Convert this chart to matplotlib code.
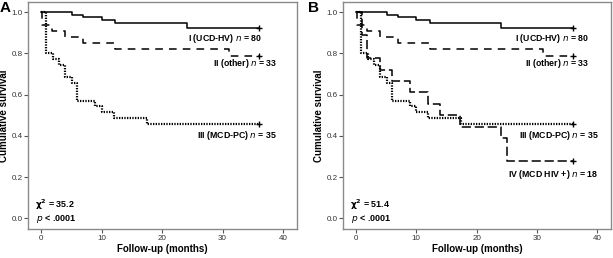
import matplotlib
matplotlib.use("Agg")
import matplotlib.pyplot as plt

plt.rcParams['font.family'] = ['Liberation Sans', 'DejaVu Sans']

# survival step data (months, cumulative survival)
t_I = [0, 5.1, 7.0, 10.0, 12.2, 24.1, 36]
s_I = [1.0, 0.9875, 0.975, 0.9625, 0.95, 0.925, 0.925]

t_II = [0, 0.2, 1.8, 4.0, 7.0, 12.2, 31.0, 36]
s_II = [1.0, 0.94, 0.91, 0.88, 0.85, 0.82, 0.79, 0.79]

t_III = [0, 0.9, 2.0, 3.0, 4.0, 5.1, 6.0, 9.0, 10.0, 12.0, 17.5, 36]
s_III = [1.0, 0.80, 0.771, 0.743, 0.686, 0.657, 0.571, 0.543, 0.514, 0.486, 0.457, 0.457]

t_IV = [0, 1.0, 1.8, 4.0, 5.9, 8.9, 12.0, 14.0, 17.2, 24.1, 25.0, 36]
s_IV = [1.0, 0.889, 0.778, 0.722, 0.667, 0.611, 0.556, 0.5, 0.444, 0.389, 0.278, 0.278]

chi_A = "35.2"
chi_B = "51.4"
x_ticks = [0, 10, 20, 30, 40]
y_ticks = [0.0, 0.2, 0.4, 0.6, 0.8, 1.0]

W, H = 613, 258
fig = plt.figure(figsize=(W / 100, H / 100), dpi=100)


def style_axes(ax):
    ax.set_xlim(-2.15, 42.3)
    ax.set_ylim(-0.052, 1.05)
    ax.set_xticks(x_ticks)
    ax.set_yticks(y_ticks)
    ax.set_yticklabels([f"{v:.1f}" for v in y_ticks])
    for sp in ax.spines.values():
        sp.set_color("#8a8a8a")
        sp.set_linewidth(1.0)
    ax.tick_params(length=3, width=0.8, color="#555555", labelsize=5.8,
                   labelcolor="#333333", pad=1)
    ax.set_xlabel("Follow-up (months)", fontsize=7, fontweight="bold", labelpad=2)
    ax.set_ylabel("Cumulative survival", fontsize=7, fontweight="bold", labelpad=2)


def km(ax, t, s, **kw):
    ax.plot(t, s, drawstyle="steps-post", color="black", **kw)
    ax.plot(t[-1], s[-1], marker="+", color="black", ms=5, mew=1.0)


def draw_groups(ax):
    km(ax, t_I, s_I, lw=1.1)
    km(ax, t_II, s_II, lw=1.1, dashes=(5, 4))
    km(ax, t_III, s_III, lw=1.6, dashes=(0.6, 0.6))


def chi_text(ax, chi):
    ax.text(-1.0, 0.065, r"$\mathbf{\chi^2}$ = " + chi, fontsize=6.5, fontweight="bold",
            va="center", ha="left")
    ax.text(-0.8, -0.005, r"$\mathbf{\it{p}}$ < .0001", fontsize=6.5, fontweight="bold",
            va="center", ha="left")


lab = dict(fontsize=6.3, fontweight="bold", ha="right", va="center")

# panel A
axA = fig.add_axes([28 / W, (H - 229) / H, 269 / W, 227 / H])
style_axes(axA)
draw_groups(axA)
axA.text(36.5, 0.875, r"I (UCD-HV) $\mathbf{\it{n}}$ = 80", **lab)
axA.text(39.0, 0.752, r"II (other) $\mathbf{\it{n}}$ = 33", **lab)
axA.text(39.0, 0.403, r"III (MCD-PC) $\mathbf{\it{n}}$ = 35", **lab)
chi_text(axA, chi_A)
fig.text(0 / W, 1 - 1 / H, "A", fontsize=11, fontweight="bold", ha="left", va="top")

# panel B
axB = fig.add_axes([343 / W, (H - 229) / H, 268 / W, 227 / H])
style_axes(axB)
draw_groups(axB)
km(axB, t_IV, s_IV, lw=1.1, dashes=(6, 2.5))
axB.text(38.7, 0.875, r"I (UCD-HV) $\mathbf{\it{n}}$ = 80", **lab)
axB.text(38.7, 0.752, r"II (other) $\mathbf{\it{n}}$ = 33", **lab)
axB.text(40.3, 0.403, r"III (MCD-PC) $\mathbf{\it{n}}$ = 35", **lab)
axB.text(40.3, 0.215, r"IV (MCD HIV +) $\mathbf{\it{n}}$ = 18", **lab)
chi_text(axB, chi_B)
fig.text(308 / W, 1 - 1 / H, "B", fontsize=11, fontweight="bold", ha="left", va="top")

fig.savefig("out.png", dpi=100)
